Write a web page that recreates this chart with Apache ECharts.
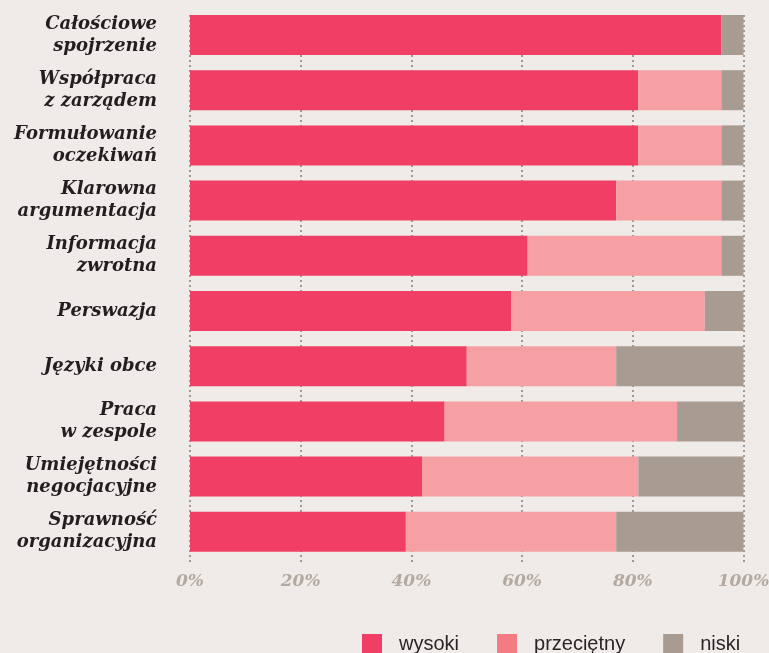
<!DOCTYPE html>
<html>
<head>
<meta charset="utf-8">
<script src="https://cdn.jsdelivr.net/npm/echarts@6/dist/echarts.min.js"></script>
<style>
  html, body { margin: 0; padding: 0; background: #eeebe8; }
  #chart { width: 769px; height: 653px; }
</style>
</head>
<body>
<div id="chart"></div>
<script>
// Competence areas, top to bottom
const categories = [
  'Całościowe\nspojrzenie',
  'Współpraca\nz zarządem',
  'Formułowanie\noczekiwań',
  'Klarowna\nargumentacja',
  'Informacja\nzwrotna',
  'Perswazja',
  'Języki obce',
  'Praca\nw zespole',
  'Umiejętności\nnegocjacyjne',
  'Sprawność\norganizacyjna'
];

// Share of ratings (%) per level
const wysoki     = [96, 81, 81, 77, 61, 58, 50, 46, 42, 39];
const przecietny = [0, 15, 15, 19, 35, 35, 27, 42, 39, 38];
const niski      = [4, 4, 4, 4, 4, 7, 23, 12, 19, 23];

const seriesNames = ['wysoki', 'przeciętny', 'niski'];
const xTicks = [0, 20, 40, 60, 80, 100];

const colRed = '#f13e64';
const colPink = '#f6a0a3';
const colPinkLegend = '#f27c82';
const colGrey = '#a89b91';

const serifFont = '"DejaVu Serif", serif';

const chart = echarts.init(document.getElementById('chart'), null, { renderer: 'canvas' });

const gridLeft = 190;
const gridRight = 25.5;

const option = {
  backgroundColor: '#eeebe8',
  animation: false,
  legend: {
    left: 357,
    top: 629,
    itemWidth: 20,
    itemHeight: 20,
    itemGap: 38,
    icon: 'rect',
    textStyle: {
      fontFamily: '"Liberation Sans", Arial, sans-serif',
      fontSize: 20,
      color: '#2a2626',
      padding: [0, 0, 3, 12]
    },
    data: [
      { name: seriesNames[0], itemStyle: { color: colRed } },
      { name: seriesNames[1], itemStyle: { color: colPinkLegend } },
      { name: seriesNames[2], itemStyle: { color: colGrey } }
    ]
  },
  grid: [
    { left: gridLeft, right: gridRight, top: 7.4, height: 552, outerBoundsMode: 'none', containLabel: false },
    { left: gridLeft, right: gridRight, top: 15, height: 547, outerBoundsMode: 'none', containLabel: false }
  ],
  xAxis: [
    {
      type: 'value',
      gridIndex: 0,
      min: xTicks[0],
      max: xTicks[xTicks.length - 1],
      interval: 20,
      axisLine: { show: false },
      axisTick: { show: false },
      splitLine: { show: false },
      axisLabel: {
        margin: 14,
        formatter: v => xTicks.includes(v) ? v + '%' : '',
        fontFamily: serifFont,
        fontStyle: 'italic',
        fontWeight: 'bold',
        fontSize: 17,
        color: '#b3a9a1'
      }
    },
    {
      // dotted vertical guides behind the bars
      type: 'value',
      gridIndex: 1,
      min: 0,
      max: 100,
      interval: 20,
      axisLine: { show: false },
      axisTick: { show: false },
      axisLabel: { show: false },
      splitLine: {
        show: true,
        showMinLine: true,
        showMaxLine: true,
        lineStyle: { color: '#a39890', width: 2, type: [2, 3] }
      }
    }
  ],
  yAxis: [
    {
      type: 'category',
      gridIndex: 0,
      inverse: true,
      data: categories,
      axisLine: { show: false },
      axisTick: { show: false },
      axisLabel: {
        margin: 33,
        align: 'right',
        fontFamily: serifFont,
        fontStyle: 'italic',
        fontWeight: 'bold',
        fontSize: 18,
        lineHeight: 22,
        color: '#231f20'
      }
    },
    {
      type: 'value',
      gridIndex: 1,
      show: false
    }
  ],
  series: [
    {
      name: seriesNames[0], type: 'bar', stack: 'total', barWidth: 40,
      xAxisIndex: 0, yAxisIndex: 0,
      itemStyle: { color: colRed }, data: wysoki
    },
    {
      name: seriesNames[1], type: 'bar', stack: 'total', barWidth: 40,
      xAxisIndex: 0, yAxisIndex: 0,
      itemStyle: { color: colPink }, data: przecietny
    },
    {
      name: seriesNames[2], type: 'bar', stack: 'total', barWidth: 40,
      xAxisIndex: 0, yAxisIndex: 0,
      itemStyle: { color: colGrey }, data: niski
    }
  ]
};

chart.setOption(option);
</script>
</body>
</html>
